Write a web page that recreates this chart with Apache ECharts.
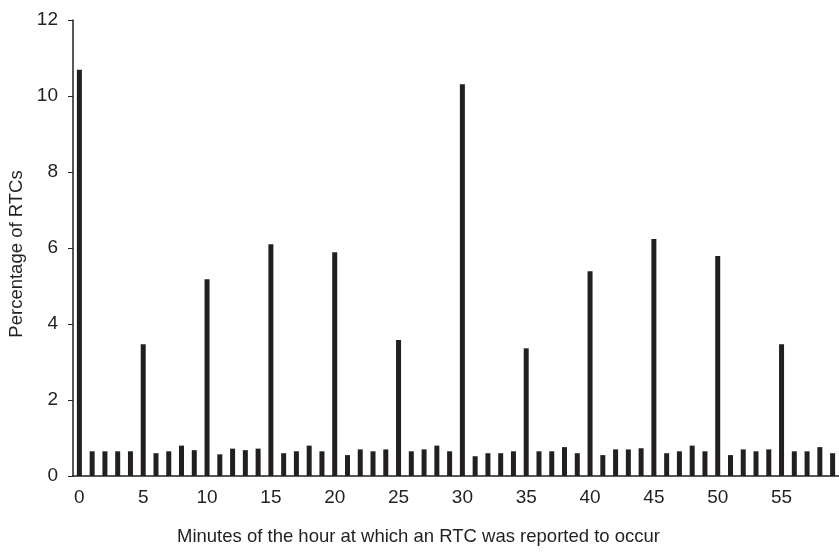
<!DOCTYPE html>
<html>
<head>
<meta charset="utf-8">
<script src="https://cdn.jsdelivr.net/npm/echarts@6/dist/echarts.min.js"></script>
<style>html,body{margin:0;padding:0;background:#fff}#c{width:839px;height:557px}</style>
</head>
<body>
<div id="c"></div>
<script>
var minutes = [];
for (var m = 0; m < 60; m++) minutes.push(String(m));
var percentages = [
  10.69, 0.65, 0.65, 0.65, 0.65, 3.47, 0.60, 0.65, 0.80, 0.68,
  5.18, 0.57, 0.72, 0.68, 0.72, 6.10, 0.60, 0.65, 0.80, 0.65,
  5.89, 0.55, 0.70, 0.65, 0.70, 3.58, 0.65, 0.70, 0.80, 0.65,
  10.31, 0.52, 0.60, 0.60, 0.65, 3.36, 0.65, 0.65, 0.76, 0.60,
  5.39, 0.55, 0.70, 0.70, 0.73, 6.24, 0.60, 0.65, 0.80, 0.65,
  5.79, 0.55, 0.70, 0.65, 0.70, 3.47, 0.65, 0.65, 0.76, 0.60
];
var yTitle = 'Percentage of RTCs';
var xTitle = 'Minutes of the hour at which an RTC was reported to occur';

var chart = echarts.init(document.getElementById('c'), null, {renderer: 'canvas'});
var font = 'Liberation Sans, Arial, sans-serif';
var ink = '#231f20';
chart.setOption({
  animation: false,
  grid: {left: 73, top: 20, bottom: 81, right: -5, containLabel: false},
  graphic: [
    {
      type: 'text', left: 422 - 245, top: 527, silent: true,
      style: {text: xTitle, fontFamily: font, fontSize: 18.5, fill: ink}
    },
    {
      type: 'text', x: 17, y: 254, rotation: Math.PI / 2, silent: true,
      style: {text: yTitle, fontFamily: font, fontSize: 18.5, fill: ink, align: 'center', verticalAlign: 'middle'}
    }
  ],
  xAxis: {
    type: 'category',
    data: minutes,
    boundaryGap: true,
    axisLine: {show: true, lineStyle: {color: ink, width: 1.5}},
    axisTick: {show: false},
    axisLabel: {interval: 4, margin: 12, fontFamily: font, fontSize: 19, color: ink},
    splitLine: {show: false}
  },
  yAxis: {
    type: 'value',
    min: 0, max: 12, interval: 2,
    axisLine: {show: true, lineStyle: {color: ink, width: 1.5}},
    axisTick: {show: true, inside: false, length: 5, lineStyle: {color: ink, width: 1}},
    axisLabel: {margin: 15, fontFamily: font, fontSize: 19, color: ink},
    splitLine: {show: false}
  },
  series: [{
    type: 'bar',
    data: percentages,
    barWidth: 5,
    itemStyle: {color: ink}
  }]
});
</script>
</body>
</html>
